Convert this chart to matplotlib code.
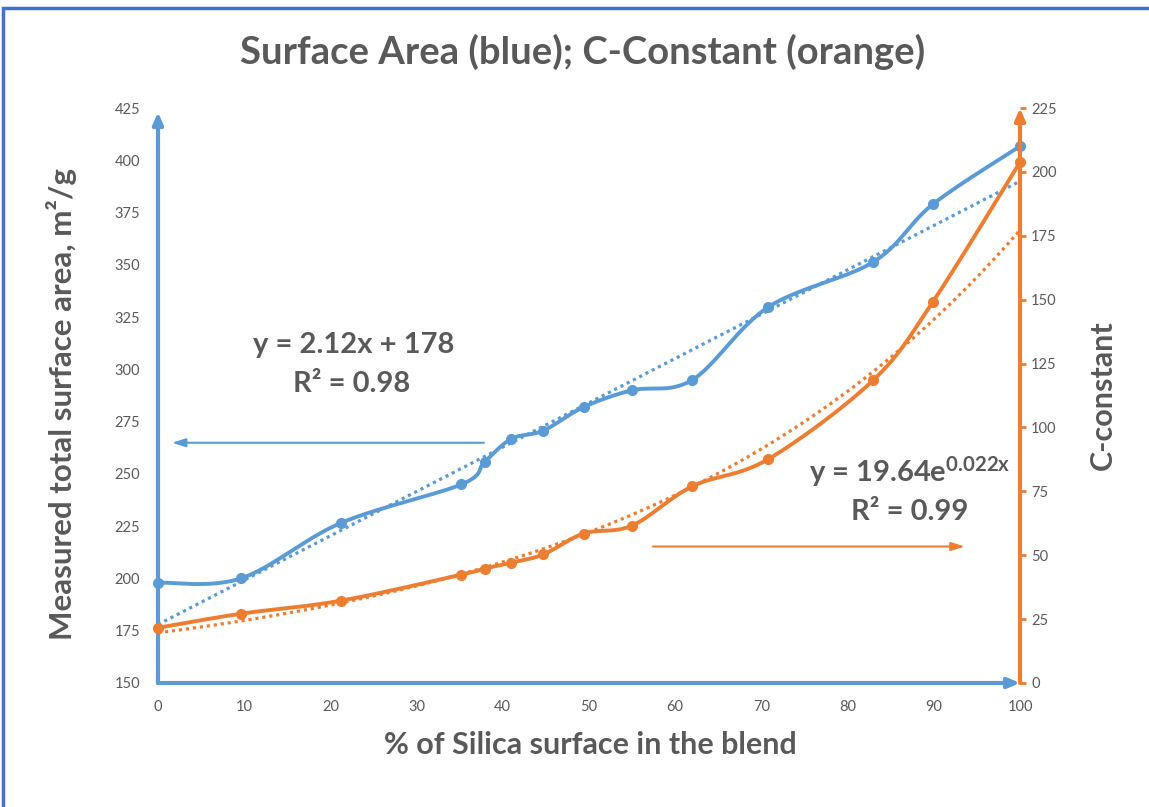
import numpy as np
import matplotlib
matplotlib.use("Agg")
import matplotlib.pyplot as plt
from matplotlib.patches import Rectangle

## data ##
silica_pct = [0, 9.6, 21.2, 35.2, 37.9, 41.0, 44.7, 49.4, 55.0, 62.0, 70.8, 83.0, 89.9, 100]
surface_area = [198, 200, 226.5, 245, 255.8, 266.8, 270.7, 282, 290, 295, 329.8, 351.4, 379, 406.7]
c_constant = [21.6, 27.1, 32.2, 42.4, 44.8, 47.1, 50.3, 58.5, 61.6, 77.0, 87.6, 118.6, 149.2, 203.8]

# trendline coefficients as printed on the chart
lin_slope, lin_icpt = 2.12, 178
exp_a, exp_b = 19.64, 0.022

xlim = (0, 100)
ylim_left = (150, 425)
ylim_right = (0, 225)
left_ticks = list(range(150, 426, 25))
right_ticks = list(range(0, 226, 25))
x_ticks = list(range(0, 101, 10))

blue = "#5B9BD5"
orange = "#ED7D31"
grey = "#595959"

plt.rcParams['font.family'] = ['Lato', 'DejaVu Sans']
plt.rcParams['mathtext.default'] = 'regular'

W, H = 1149, 807
fig = plt.figure(figsize=(W / 100, H / 100), dpi=100)
ax = fig.add_axes([158 / W, 1 - 683 / H, 862 / W, 575 / H])
ax2 = ax.twinx()


# excel-like smoothed line: bezier through the points, worked out in pixel space
def smooth(x, y, xr, yr, n=30):
    px = (np.asarray(x, float) - xr[0]) / (xr[1] - xr[0]) * 862
    py = (np.asarray(y, float) - yr[0]) / (yr[1] - yr[0]) * 575
    P = np.column_stack([px, py])
    out = []
    t = np.linspace(0, 1, n)[:, None]
    for i in range(len(P) - 1):
        p0 = P[i - 1] if i > 0 else P[i]
        p1, p2 = P[i], P[i + 1]
        p3 = P[i + 2] if i + 2 < len(P) else P[i + 1]
        c1 = p1 + (p2 - p0) / 6
        c2 = p2 - (p3 - p1) / 6
        seg = (1 - t) ** 3 * p1 + 3 * (1 - t) ** 2 * t * c1 + 3 * (1 - t) * t ** 2 * c2 + t ** 3 * p2
        out.append(seg)
    out = np.vstack(out)
    sx = out[:, 0] / 862 * (xr[1] - xr[0]) + xr[0]
    sy = out[:, 1] / 575 * (yr[1] - yr[0]) + yr[0]
    return sx, sy


xt = np.linspace(0, 100, 200)

# surface area (left axis)
sx, sy = smooth(silica_pct, surface_area, xlim, ylim_left)
ax.plot(sx, sy, color=blue, lw=2.8, solid_capstyle='round', zorder=3)
ax.plot(silica_pct, surface_area, 'o', color=blue, ms=7, clip_on=False, zorder=4)
ax.plot(xt, lin_slope * xt + lin_icpt, color=blue, lw=2.3, ls=(0, (1, 1.2)), zorder=2)

# c-constant (right axis)
sx, sy = smooth(silica_pct, c_constant, xlim, ylim_right)
ax2.plot(sx, sy, color=orange, lw=2.8, solid_capstyle='round', zorder=3)
ax2.plot(silica_pct, c_constant, 'o', color=orange, ms=7, clip_on=False, zorder=4)
ax2.plot(xt, exp_a * np.exp(exp_b * xt), color=orange, lw=2.3, ls=(0, (1, 1.2)), zorder=2)

ax.set_xlim(*xlim)
ax.set_ylim(*ylim_left)
ax2.set_ylim(*ylim_right)
ax.set_xticks(x_ticks)
ax.set_yticks(left_ticks)
ax2.set_yticks(right_ticks)

for a in (ax, ax2):
    for s in a.spines.values():
        s.set_visible(False)

ax.tick_params(axis='x', length=0, pad=12, labelsize=10.5, labelcolor=grey)
ax.tick_params(axis='y', length=0, pad=13, labelsize=10.5, labelcolor=grey)
ax2.tick_params(axis='y', length=4, width=2, color=orange, pad=4, labelsize=10.5, labelcolor=grey)

# axis lines with arrow heads
ax.annotate('', xy=(0, 0.993), xytext=(0, 0), xycoords='axes fraction',
            arrowprops=dict(arrowstyle='-|>,head_length=0.7,head_width=0.3', color=blue, lw=3,
                            shrinkA=0, shrinkB=0), annotation_clip=False)
ax.annotate('', xy=(1.0, 0), xytext=(0, 0), xycoords='axes fraction',
            arrowprops=dict(arrowstyle='-|>,head_length=0.7,head_width=0.3', color=blue, lw=3,
                            shrinkA=0, shrinkB=0), annotation_clip=False)
ax2.annotate('', xy=(1, 1.0), xytext=(1, 0), xycoords='axes fraction',
             arrowprops=dict(arrowstyle='-|>,head_length=0.7,head_width=0.3', color=orange, lw=3,
                             shrinkA=0, shrinkB=0), annotation_clip=False)

# pointer arrows to each axis
ax.annotate('', xy=(1.6, 264.9), xytext=(37.8, 264.9),
            arrowprops=dict(arrowstyle='-|>,head_length=0.8,head_width=0.25', color=blue, lw=1.5,
                            shrinkA=0, shrinkB=0))
ax2.annotate('', xy=(93.6, 53.4), xytext=(57.4, 53.4),
             arrowprops=dict(arrowstyle='-|>,head_length=0.8,head_width=0.25', color=orange, lw=1.5,
                             shrinkA=0, shrinkB=0))

# equations
ax.text(0.227, 0.588, 'y = 2.12x + 178', transform=ax.transAxes, ha='center', va='center',
        fontsize=21, fontweight='bold', color=grey)
ax.text(0.225, 0.52, 'R² = 0.98', transform=ax.transAxes, ha='center', va='center',
        fontsize=21, fontweight='bold', color=grey)
ax.text(0.872, 0.367, 'y = 19.64e$^{0.022x}$', transform=ax.transAxes, ha='center', va='center',
        fontsize=21, fontweight='bold', color=grey)
ax.text(0.872, 0.298, 'R² = 0.99', transform=ax.transAxes, ha='center', va='center',
        fontsize=21, fontweight='bold', color=grey)

fig.text(583 / W, 1 - 52 / H, 'Surface Area (blue); C-Constant (orange)', ha='center', va='center',
         fontsize=27.5, fontweight='bold', color=grey)
fig.text(590 / W, 1 - 745 / H, '% of Silica surface in the blend', ha='center', va='center',
         fontsize=22, fontweight='bold', color=grey)
fig.text(62 / W, 1 - 404 / H, 'Measured total surface area, m²/g', ha='center', va='center',
         rotation=90, fontsize=22.5, fontweight='bold', color=grey)
fig.text(1103 / W, 1 - 395 / H, 'C-constant', ha='center', va='center',
         rotation=90, fontsize=22, fontweight='bold', color=grey)

# frame around the chart
fig.patches.append(Rectangle((3 / W, -0.05), 1.2, 1 - 8 / H + 0.05, transform=fig.transFigure,
                             fill=False, edgecolor='#4472C4', lw=2.5))

fig.savefig('out.png', dpi=100)
